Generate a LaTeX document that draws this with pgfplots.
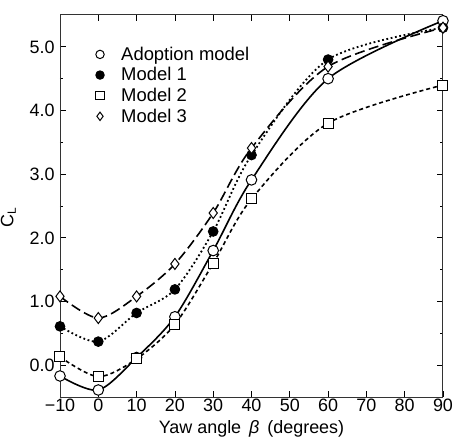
\documentclass[border=0pt]{standalone}
\usepackage{pgfplots}
\pgfplotsset{compat=1.18}
\usepackage{fontspec}
\setmainfont{Liberation Sans}
\begin{document}
\begin{tikzpicture}
\begin{axis}[
  at={(0,0)}, anchor=south west,
  scale only axis, width=383bp, height=382bp,
  xmin=-10, xmax=90, ymin=-0.5, ymax=5.5,
  xtick={-10,0,...,90},
  ytick={0,1,2,3,4,5},
  minor ytick={-0.5,0.5,1.5,2.5,3.5,4.5},
  tick align=inside,
  major tick length=6bp, minor tick length=3bp,
  tick style={black, line width=0.8pt},
  axis line style={line width=1pt, black!80},
  xticklabels={\textminus10,0,10,20,30,40,50,60,70,80,90},
  yticklabel style={/pgf/number format/fixed, /pgf/number format/fixed zerofill, /pgf/number format/precision=1, xshift=-2bp},
  /pgf/number format/assume math mode=true,
  tick label style={font=\fontsize{18}{20}\selectfont},
  xticklabel style={yshift=2bp},
  xlabel={Yaw angle \,{\itshape β}\, (degrees)},
  xlabel style={font=\fontsize{18}{20}\selectfont, at={(axis description cs:0.5,-0.083)}, anchor=center},
  ylabel={C$_{\textrm{\fontsize{12}{12}\selectfont L}}$},
  ylabel style={font=\fontsize{18}{20}\selectfont, at={(axis description cs:-0.135,0.47)}, anchor=center},
  legend style={draw=none, fill=none, at={(axis description cs:0.093,0.922)}, anchor=north west,
    font=\fontsize{18.5}{20}\selectfont, row sep=1.8bp, column sep=15bp, inner sep=0pt},
  legend image post style={mark size=4.2bp},
  legend cell align=left,
]
% curves
\addplot[black, line width=1.6bp, smooth, forget plot] coordinates {(-10,-0.17) (0,-0.39) (10,0.12) (20,0.76) (30,1.8) (40,2.91) (60,4.5) (90,5.41)};
\addplot[black, line width=1.8bp, smooth, dash pattern=on 1.8bp off 2.6bp, forget plot] coordinates {(-10,0.61) (0,0.37) (10,0.82) (20,1.19) (30,2.1) (40,3.3) (60,4.8) (90,5.3)};
\addplot[black, line width=1.6bp, smooth, dash pattern=on 4bp off 3bp, forget plot] coordinates {(-10,0.13) (0,-0.18) (10,0.1) (20,0.64) (30,1.6) (40,2.61) (60,3.8) (90,4.4)};
\addplot[black, line width=1.6bp, smooth, dash pattern=on 10bp off 4.5bp, forget plot] coordinates {(-10,1.08) (0,0.74) (10,1.08) (20,1.59) (30,2.39) (40,3.41) (60,4.69) (90,5.3)};
% marks
\addplot[only marks, mark=*, mark size=5.3bp, mark options={solid, fill=white, line width=1bp}, black] coordinates {(-10,-0.17) (0,-0.39) (10,0.12) (20,0.76) (30,1.8) (40,2.91) (60,4.5) (90,5.41)};
\addlegendentry{Adoption model}
\addplot[only marks, mark=*, mark size=4.8bp, mark options={solid, line width=1bp}, black] coordinates {(-10,0.61) (0,0.37) (10,0.82) (20,1.19) (30,2.1) (40,3.3) (60,4.8) (90,5.3)};
\addlegendentry{Model 1}
\addplot[only marks, mark=square*, mark size=5bp, mark options={solid, fill=white, line width=1bp}, black] coordinates {(-10,0.13) (0,-0.18) (10,0.1) (20,0.64) (30,1.6) (40,2.61) (60,3.8) (90,4.4)};
\addlegendentry{Model 2}
\addplot[only marks, mark=diamond*, mark size=5.5bp, mark options={solid, fill=white, line width=1bp}, black] coordinates {(-10,1.08) (0,0.74) (10,1.08) (20,1.59) (30,2.39) (40,3.41) (60,4.69) (90,5.3)};
\addlegendentry{Model 3}
\end{axis}
\pgfresetboundingbox
\path[use as bounding box] (-60bp,-40bp) rectangle (394bp,397bp);
\end{tikzpicture}
\end{document}
